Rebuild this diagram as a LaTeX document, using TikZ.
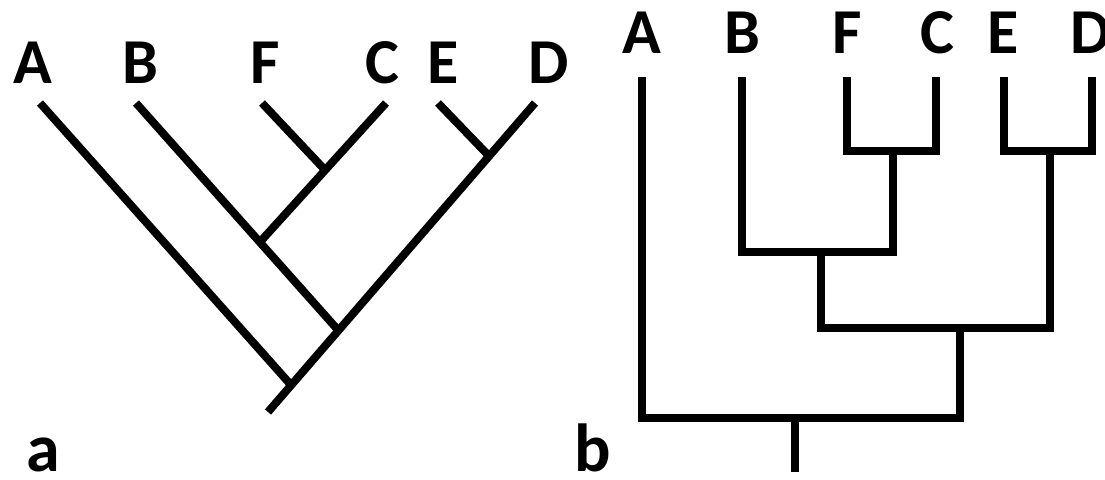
\documentclass[tikz,border=0pt]{standalone}
\usepackage{fontspec}
\setmainfont{Carlito}
\usepackage{tikz}
\usetikzlibrary{positioning,calc}

\begin{document}
\begin{tikzpicture}[
	x=0.75pt, y=-0.75pt,
	taxon/.style={font=\fontsize{48}{48}\selectfont\bfseries, inner sep=0pt, anchor=base},
	panel/.style={font=\fontsize{51}{51}\selectfont\bfseries, inner sep=0pt, anchor=base},
	branch/.style={line width=6pt, line cap=butt, line join=miter}
]
\useasboundingbox (0,0) rectangle (1105,479);

% panel a: slanted cladogram
\node[taxon] (aA) at (33,83) {A};
\node[taxon] (aB) at (140,83) {B};
\node[taxon] (aF) at (265,83) {F};
\node[taxon] (aC) at (382,83) {C};
\node[taxon] (aE) at (443,83) {E};
\node[taxon] (aD) at (549,83) {D};
\node[panel] (pa) at (43,471) {a};

\coordinate (aAt) at (40,103);
\coordinate (aBt) at (136,103);
\coordinate (aFt) at (262,103);
\coordinate (aCt) at (386,103);
\coordinate (aEt) at (438,103);
\coordinate (aDt) at (535,103);
\coordinate (aFC) at (325,170);
\coordinate (aBFC) at (260,242);
\coordinate (aED) at (489,156);
\coordinate (aBED) at (338,330);
\coordinate (aRootJ) at (291,385);
\coordinate (aRoot) at (268,412);

\draw[branch] (aRoot) -- (aDt);
\draw[branch] (aAt) -- (aRootJ);
\draw[branch] (aBt) -- (aBED);
\draw[branch] (aCt) -- (aBFC);
\draw[branch] (aFt) -- (aFC);
\draw[branch] (aEt) -- (aED);

% panel b: rectangular cladogram
\node[taxon] (bA) at (642,53) {A};
\node[taxon] (bB) at (742,53) {B};
\node[taxon] (bF) at (847,53) {F};
\node[taxon] (bC) at (937,53) {C};
\node[taxon] (bE) at (1003,53) {E};
\node[taxon] (bD) at (1091,53) {D};
\node[panel] (pb) at (593,471) {b};

\coordinate (bAt) at (642,77);
\coordinate (bBt) at (742,77);
\coordinate (bFt) at (847,77);
\coordinate (bCt) at (936,77);
\coordinate (bEt) at (1004,77);
\coordinate (bDt) at (1092,77);
\coordinate (bFC) at (893,151);
\coordinate (bED) at (1050,151);
\coordinate (bBFC) at (821,252);
\coordinate (bBED) at (960,328);
\coordinate (bRootJ) at (795,418);
\coordinate (bRoot) at (795,472);

\draw[branch] (bFt) |- (bFC) -| (bCt);
\draw[branch] (bEt) |- (bED) -| (bDt);
\draw[branch] (bBt) |- (bBFC) -| (bFC);
\draw[branch] (bBFC) |- (bBED) -| (bED);
\draw[branch] (bAt) |- (bRootJ) -| (bBED);
\draw[branch] (bRootJ) -- (bRoot);
\end{tikzpicture}
\end{document}
